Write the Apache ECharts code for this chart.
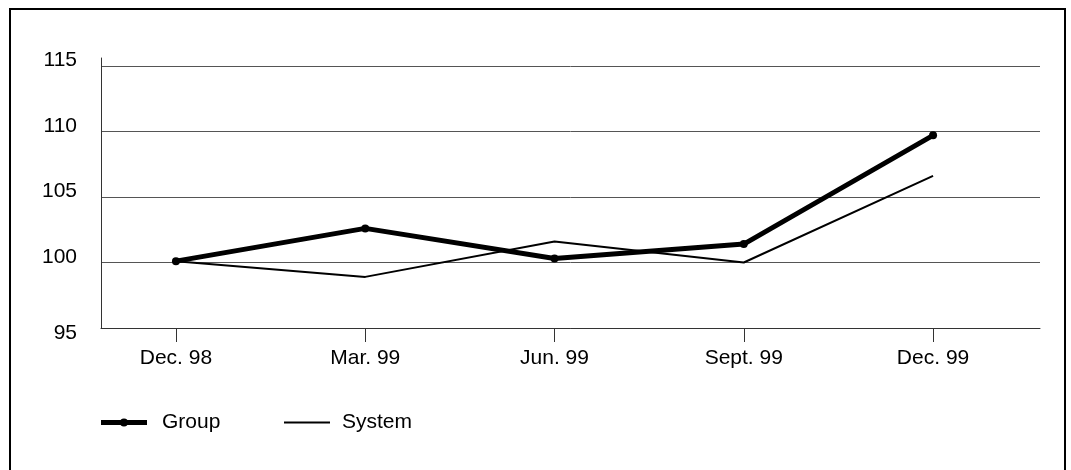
<!DOCTYPE html>
<html>
<head>
<meta charset="utf-8">
<script src="https://cdn.jsdelivr.net/npm/echarts@6/dist/echarts.min.js"></script>
<style>
  html, body { margin: 0; padding: 0; background: #fff; }
  #chart { width: 1071px; height: 470px; }
</style>
</head>
<body>
<div id="chart"></div>
<script>
// quarters on the x axis
var categories = ['Dec. 98', 'Mar. 99', 'Jun. 99', 'Sept. 99', 'Dec. 99'];
// index values
var groupValues = [100.1, 102.6, 100.3, 101.4, 109.7];
var systemValues = [100.1, 98.9, 101.6, 100.0, 106.6];
var yTicks = [95, 100, 105, 110, 115];

var toPoints = function (values) {
    var pts = [];
    for (var i = 0; i < values.length; i++) {
        pts.push([i, values[i]]);
    }
    return pts;
};

var font = 'Liberation Sans, Arial, sans-serif';
var fontSize = 21;

// legend icons: thick line with a dot, and a plain thin line
var groupIcon = 'path://M0,2H46V7H0Z M23,0.5A4,4 0 1,1 22.99,0.5Z';

var chart = echarts.init(document.getElementById('chart'));
var option = {
    animation: false,
    backgroundColor: '#fff',
    textStyle: {fontFamily: font},
    graphic: [{
        type: 'rect',
        shape: {x: 10, y: 9, width: 1055, height: 480},
        style: {fill: 'none', stroke: '#000', lineWidth: 2}
    }],
    grid: {left: 101, right: 31, top: 58, bottom: 142},
    legend: [{
        left: 101,
        top: 412,
        padding: 0,
        itemWidth: 46,
        itemHeight: 8,
        icon: groupIcon,
        textStyle: {fontSize: fontSize, color: '#000', fontFamily: font, padding: [0, 0, 0, 10]},
        data: ['Group']
    }, {
        left: 284,
        top: 412,
        padding: 0,
        itemWidth: 46,
        itemHeight: 2,
        icon: 'rect',
        textStyle: {fontSize: fontSize, color: '#000', fontFamily: font, padding: [0, 0, 0, 7]},
        data: ['System']
    }],
    xAxis: {
        type: 'value',
        min: -0.396,
        max: 4.565,
        axisLine: {onZero: false, lineStyle: {color: '#333', width: 1}},
        axisTick: {
            show: true,
            length: 14,
            customValues: [0, 1, 2, 3, 4],
            lineStyle: {color: '#333'}
        },
        axisLabel: {
            customValues: [0, 1, 2, 3, 4],
            margin: 20,
            fontSize: fontSize,
            color: '#000',
            formatter: function (v) { return categories[Math.round(v)]; }
        },
        splitLine: {show: false}
    },
    yAxis: {
        type: 'value',
        min: yTicks[0],
        max: 115.6,
        interval: 5,
        axisLine: {show: true, onZero: false, lineStyle: {color: '#333', width: 1}},
        axisTick: {show: false},
        axisLabel: {
            margin: 24,
            fontSize: fontSize,
            color: '#000',
            showMaxLabel: false,
            formatter: function (v) {
                if (yTicks.indexOf(v) < 0) return '';
                return v === yTicks[0] ? '{low|' + v + '}' : '{up|' + v + '}';
            },
            rich: {
                up: {fontSize: fontSize, color: '#000', fontFamily: font, padding: [0, 0, 11, 0]},
                low: {fontSize: fontSize, color: '#000', fontFamily: font, padding: [10, 0, 0, 0]}
            }
        },
        splitLine: {show: true, showMaxLine: false, lineStyle: {color: '#555', width: 1}}
    },
    series: [{
        name: 'Group',
        type: 'line',
        data: toPoints(groupValues),
        symbol: 'circle',
        symbolSize: 8,
        itemStyle: {color: '#000'},
        lineStyle: {color: '#000', width: 5},
        z: 3
    }, {
        name: 'System',
        type: 'line',
        data: toPoints(systemValues),
        symbol: 'none',
        itemStyle: {color: '#000'},
        lineStyle: {color: '#000', width: 2},
        z: 2
    }]
};
chart.setOption(option);
</script>
</body>
</html>
